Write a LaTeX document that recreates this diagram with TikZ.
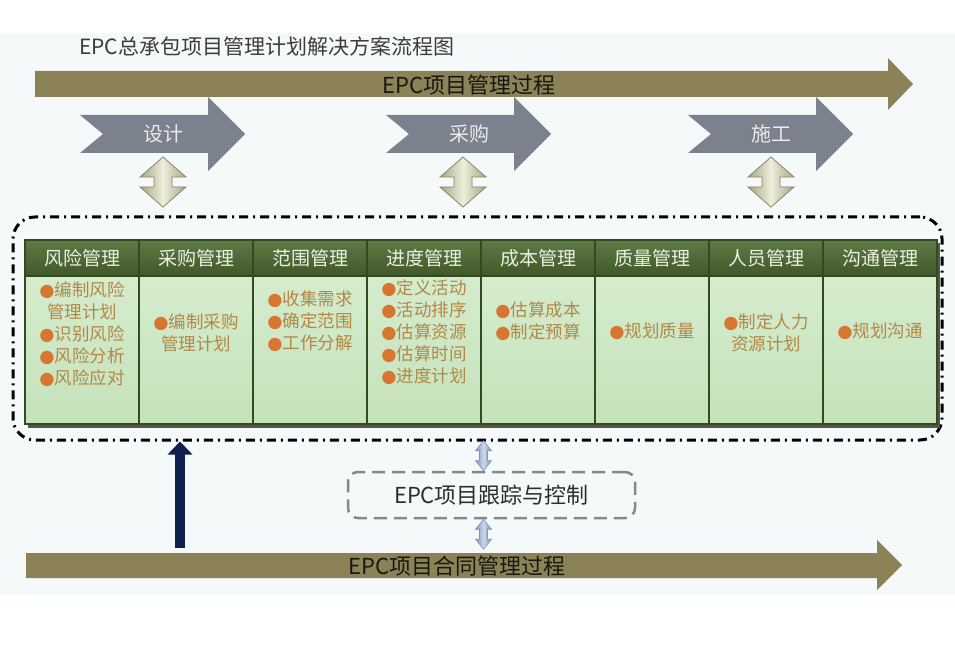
\documentclass[tikz,border=0pt]{standalone}
\usepackage{fontspec}
\setmainfont{Noto Sans CJK SC}
\newfontfamily\symfont{DejaVu Sans}
\usetikzlibrary{arrows.meta,positioning,calc}
\definecolor{pagebg}{RGB}{246,249,250}
\definecolor{olivebar}{RGB}{140,130,88}
\definecolor{proctext}{RGB}{25,24,15}
\definecolor{titlegray}{RGB}{60,60,60}
\definecolor{phasegray}{RGB}{123,130,141}
\definecolor{phasetext}{RGB}{232,234,238}
\definecolor{beigelight}{RGB}{238,238,220}
\definecolor{beigedark}{RGB}{165,165,132}
\definecolor{beigeedge}{RGB}{135,135,105}
\definecolor{bluelight}{RGB}{205,216,235}
\definecolor{bluedark}{RGB}{125,145,188}
\definecolor{headtop}{RGB}{96,122,70}
\definecolor{headbot}{RGB}{62,88,40}
\definecolor{headtext}{RGB}{236,240,226}
\definecolor{celltop}{RGB}{213,236,205}
\definecolor{cellbot}{RGB}{197,226,187}
\definecolor{celledge}{RGB}{50,74,32}
\definecolor{panelshadow}{RGB}{80,90,70}
\definecolor{itemtext}{RGB}{178,136,72}
\definecolor{bulletc}{RGB}{214,118,48}
\definecolor{trackgray}{RGB}{135,135,135}
\definecolor{tracktext}{RGB}{45,45,45}
\definecolor{navy}{RGB}{16,32,78}
\newcommand{\bul}{{\symfont\textcolor{bulletc}{●}}}

\begin{document}
\begin{tikzpicture}[x=1pt, y=-1pt,
  procbar/.style={fill=olivebar},
  proc/.style={text=proctext, font=\fontsize{22}{22}\selectfont, inner sep=0},
  phase/.style={text=phasetext, font=\fontsize{20}{20}\selectfont, inner sep=0},
  headcell/.style={draw=celledge, line width=2.5pt, top color=headtop, bottom color=headbot,
    text=headtext, minimum width=114pt, minimum height=36pt, inner sep=0, font=\fontsize{19}{19}\selectfont},
  bodycell/.style={draw=celledge, line width=2.5pt, top color=celltop, bottom color=cellbot,
    minimum width=114pt, minimum height=148pt, inner sep=0},
  item/.style={text=itemtext, align=center, font=\fontsize{17.5}{22}\selectfont, inner sep=0},
  dashframe/.style={draw=black, line width=3pt, rounded corners=22pt,
    dash pattern=on 9pt off 5pt on 2pt off 5pt, minimum width=929pt, minimum height=223pt, inner sep=0},
  trackbox/.style={draw=trackgray, line width=2.5pt, rounded corners=10pt, dash pattern=on 13pt off 7pt,
    minimum width=287pt, minimum height=46pt, text=tracktext, font=\fontsize{22}{22}\selectfont},
  navyarrow/.style={navy, line width=10pt, -{Triangle[length=13pt,width=24pt]}},
  chevron/.pic={\fill[phasegray] (-83,-19) -- (45,-19) -- (45,-37) -- (82,0) -- (45,37)
    -- (45,19) -- (-83,19) -- (-60,0) -- cycle;},
  beigeud/.pic={\draw[beigeedge, line width=0.8pt, left color=beigedark, right color=beigedark,
    middle color=beigelight] (0,-25) -- (23,-5) -- (9,-5) -- (9,5) -- (23,5) -- (0,25)
    -- (-23,5) -- (-9,5) -- (-9,-5) -- (-23,-5) -- cycle;},
  blueud/.pic={\draw[bluedark, line width=0.6pt, left color=bluedark, right color=bluedark,
    middle color=bluelight] (0,-15) -- (8,-5) -- (4,-5) -- (4,5) -- (8,5) -- (0,15)
    -- (-8,5) -- (-4,5) -- (-4,-5) -- (-8,-5) -- cycle;}
]
\useasboundingbox (0,0) rectangle (955,652);
\fill[pagebg] (0,33) rectangle (955,595);

% title and the two process bars
\node[anchor=west, text=titlegray, font=\fontsize{21}{21}\selectfont, inner sep=0] (title) at (79,46)
  {EPC总承包项目管理计划解决方案流程图};
\fill[procbar] (35,71) -- (888,71) -- (888,58) -- (913,84) -- (888,110) -- (888,97) -- (35,97) -- cycle;
\node[proc] (mgmt) at (469,85) {EPC项目管理过程};
\fill[procbar] (26,553) -- (877,553) -- (877,540) -- (902,565) -- (877,590) -- (877,578) -- (26,578) -- cycle;
\node[proc] (contract) at (457,566) {EPC项目合同管理过程};

% phases
\node[dashframe] (frame) at (477.5,328.5) {};
\foreach \nm/\txt/\x/\ax in {design/设计/163/0, buy/采购/469/-6, build/施工/771/0} {
  \pic at (\x,134) {chevron};
  \node[phase] (\nm) at (\x,134) {\txt};
  \pic at ($(\nm.center)+(\ax,48)$) {beigeud};
}

% knowledge areas
\fill[panelshadow] (28,243) rectangle (940,428);
\foreach \i/\hd/\y/\items in {
  1/风险管理/334/{\bul 编制风险\\管理计划\\\bul 识别风险\\\bul 风险分析\\\bul 风险应对},
  2/采购管理/333/{\bul 编制采购\\管理计划},
  3/范围管理/321/{\bul 收集需求\\\bul 确定范围\\\bul 工作分解},
  4/进度管理/332/{\bul 定义活动\\\bul 活动排序\\\bul 估算资源\\\bul 估算时间\\\bul 进度计划},
  5/成本管理/321/{\bul 估算成本\\\bul 制定预算},
  6/质量管理/331/{\bul 规划质量},
  7/人员管理/333/{\bul 制定人力\\资源计划},
  8/沟通管理/331/{\bul 规划沟通}} {
  \node[bodycell] (b\i) at ({25+114*(\i-1)+57},350) {};
  \node[headcell] (h\i) at ({25+114*(\i-1)+57},258) {\hd};
  \node[item] (t\i) at ({25+114*(\i-1)+57},\y) {\items};
}

% tracking and control
\node[trackbox] (track) at (491.5,495) {EPC项目跟踪与控制};
\pic at ($(track.north)+(-8,-15)$) {blueud};
\pic at ($(track.south)+(-8,15)$) {blueud};

\coordinate (navybase) at (180,548);
\draw[navyarrow] (navybase) -- (navybase |- frame.south);
\end{tikzpicture}
\end{document}
